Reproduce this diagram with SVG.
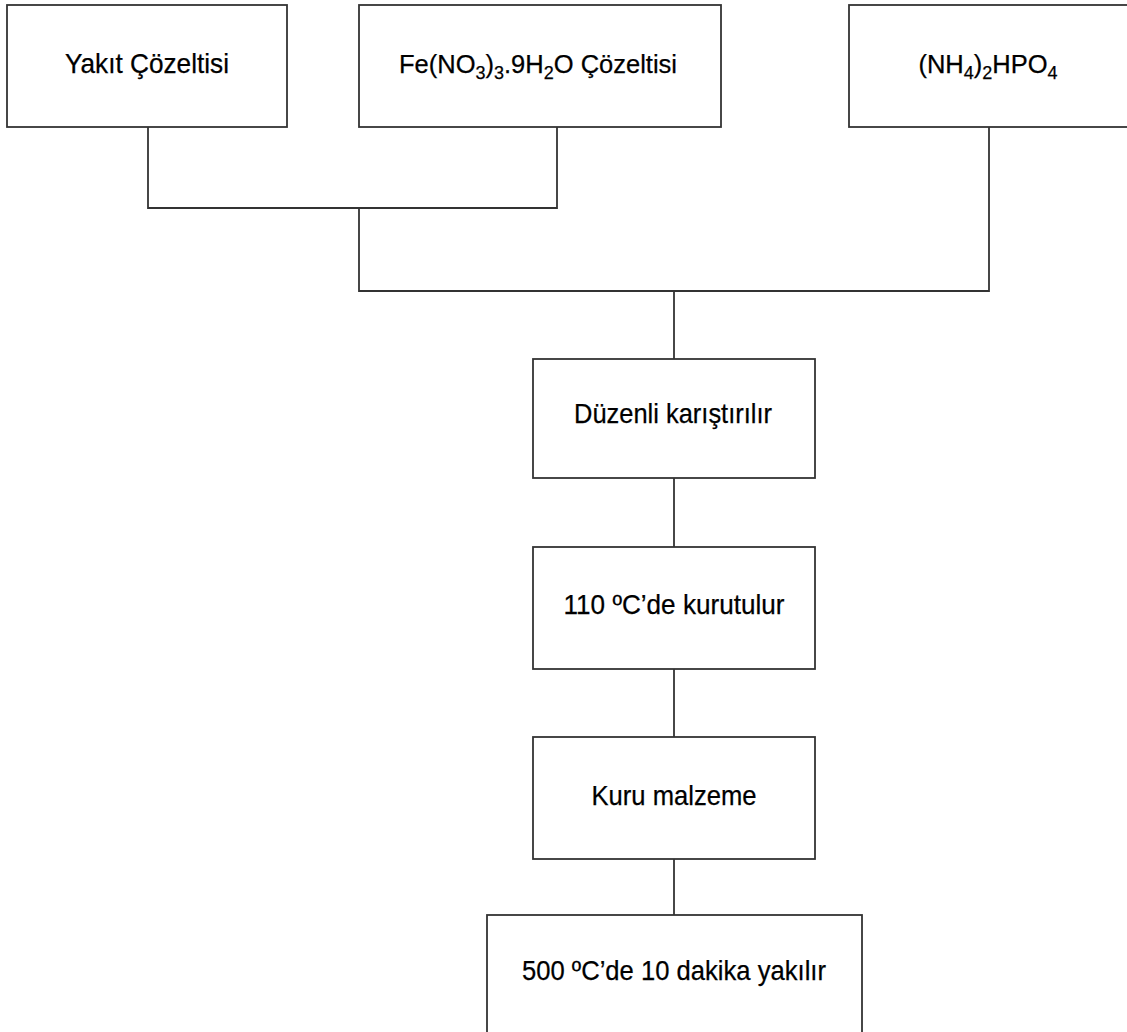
<svg xmlns="http://www.w3.org/2000/svg" width="1127" height="1032" viewBox="0 0 1127 1032">
<style>
.box{fill:#ffffff;stroke:#333333;stroke-width:1.8}
.lbl{font-family:"Liberation Sans",Arial,sans-serif;font-size:28px;fill:#000000;stroke:#000000;stroke-width:0.25;text-anchor:middle}
.chem{font-size:25.5px}
.sub{font-size:18px}
.conn{fill:none;stroke:#333333;stroke-width:1.8}
</style>
<rect width="1127" height="1032" fill="#ffffff"/>
<g id="connectors">
<polyline class="conn" points="148,127 148,208 557,208 557,127"/>
<polyline class="conn" points="359,208 359,291 989,291 989,127"/>
<line class="conn" x1="674" y1="291" x2="674" y2="359"/>
<line class="conn" x1="674" y1="478" x2="674" y2="547"/>
<line class="conn" x1="674" y1="669" x2="674" y2="737"/>
<line class="conn" x1="674" y1="859" x2="674" y2="915"/>
</g>
<g id="n1">
<rect class="box" x="7" y="5" width="280" height="122"/>
<text class="lbl" x="147" y="73" textLength="164" lengthAdjust="spacingAndGlyphs">Yakıt Çözeltisi</text>
</g>
<g id="n2">
<rect class="box" x="359" y="5" width="362" height="122"/>
<text class="lbl chem" x="538" y="73">Fe(NO<tspan class="sub" dy="6">3</tspan><tspan dy="-6">)</tspan><tspan class="sub" dy="6">3</tspan><tspan dy="-6">.9H</tspan><tspan class="sub" dy="6">2</tspan><tspan dy="-6">O Çözeltisi</tspan></text>
</g>
<g id="n3">
<rect class="box" x="849" y="5" width="290" height="122"/>
<text class="lbl chem" x="988" y="73">(NH<tspan class="sub" dy="6">4</tspan><tspan dy="-6">)</tspan><tspan class="sub" dy="6">2</tspan><tspan dy="-6">HPO</tspan><tspan class="sub" dy="6">4</tspan></text>
</g>
<g id="n4">
<rect class="box" x="533" y="359" width="282" height="119"/>
<text class="lbl" x="673" y="423" textLength="198" lengthAdjust="spacingAndGlyphs">Düzenli karıştırılır</text>
</g>
<g id="n5">
<rect class="box" x="533" y="547" width="282" height="122"/>
<text class="lbl" x="674" y="614" textLength="221" lengthAdjust="spacingAndGlyphs">110 ºC’de kurutulur</text>
</g>
<g id="n6">
<rect class="box" x="533" y="737" width="282" height="122"/>
<text class="lbl" x="674" y="805" textLength="165" lengthAdjust="spacingAndGlyphs">Kuru malzeme</text>
</g>
<g id="n7">
<rect class="box" x="487" y="915" width="375" height="130"/>
<text class="lbl" x="674" y="980" textLength="304" lengthAdjust="spacingAndGlyphs">500 ºC’de 10 dakika yakılır</text>
</g>
</svg>
